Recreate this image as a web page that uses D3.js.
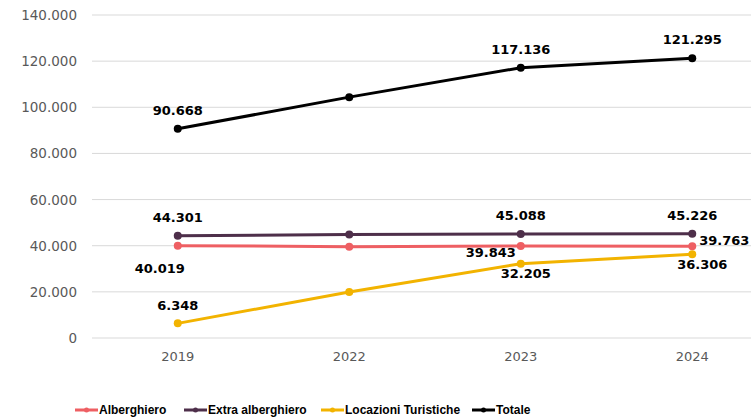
<!DOCTYPE html>
<html><head><meta charset="utf-8">
<script src="https://cdn.jsdelivr.net/npm/d3@7"></script>
<style>body{margin:0;background:#fff}svg{display:block}</style>
</head><body>
<script>
const years = ["2019","2022","2023","2024"];
const alberghiero = [40019, 39600, 39843, 39763];
const extraAlberghiero = [44301, 44900, 45088, 45226];
const locazioni = [6348, 19900, 32205, 36306];
const totale = [90668, 104400, 117136, 121295];
const yTicks = [0,20000,40000,60000,80000,100000,120000,140000];
const seriesNames = ["Alberghiero","Extra alberghiero","Locazioni Turistiche","Totale"];
// labelled points: [series index, year index, dx, dy]
const labelSpec = [
  [3,0,0,-19],[3,2,0,-19],[3,3,0,-19],
  [1,0,0,-19],[1,2,0,-19],[1,3,0,-19],
  [0,0,-18,22],[0,2,-30,6],[0,3,32,-6],
  [2,0,0,-18],[2,2,5,9],[2,3,10,10]
];

const W=751,H=418;
const svg=d3.select("body").append("svg").attr("width",W).attr("height",H);
const font="'DejaVu Sans', sans-serif";
const x=d3.scalePoint().domain(years).range([92,778]).padding(0.5);
const y=d3.scaleLinear().domain([0,140000]).range([338,15]);
const fmt=v=>d3.format(",")(v).replace(/,/g,".");

svg.append("g").selectAll("line").data(yTicks).join("line")
  .attr("x1",92).attr("x2",751).attr("y1",d=>y(d)).attr("y2",d=>y(d))
  .attr("stroke","#d9d9d9").attr("stroke-width",1);
svg.append("g").selectAll("text").data(yTicks).join("text")
  .attr("x",77).attr("y",d=>y(d)+5).attr("text-anchor","end")
  .attr("font-family",font).attr("font-size",13.5).attr("fill","#595959")
  .text(d=>fmt(d));
svg.append("g").selectAll("text").data(years).join("text")
  .attr("x",d=>x(d)).attr("y",361).attr("text-anchor","middle")
  .attr("font-family",font).attr("font-size",13).attr("fill","#595959").text(d=>d);

const data=[alberghiero,extraAlberghiero,locazioni,totale];
const colors=["#EE5F63","#4E2F4A","#F2B300","#000000"];
const line=d3.line().x((d,i)=>x(years[i])).y(d=>y(d));
data.forEach((s,k)=>{
  svg.append("path").attr("d",line(s)).attr("fill","none")
    .attr("stroke",colors[k]).attr("stroke-width",3).attr("stroke-linejoin","round");
  svg.append("g").selectAll("circle").data(s).join("circle")
    .attr("cx",(d,i)=>x(years[i])).attr("cy",d=>y(d)).attr("r",4).attr("fill",colors[k]);
});
svg.append("g").selectAll("text").data(labelSpec).join("text")
  .attr("x",d=>x(years[d[1]])+d[2]).attr("y",d=>y(data[d[0]][d[1]])+d[3]+5)
  .attr("text-anchor","middle").attr("font-family",font).attr("font-size",13)
  .attr("font-weight","bold").attr("fill","#000")
  .text(d=>fmt(data[d[0]][d[1]]));

const legX=[75,184,321,472];
const lg=svg.append("g").selectAll("g").data(seriesNames).join("g")
  .attr("transform",(d,i)=>`translate(${legX[i]},410)`);
lg.append("line").attr("x1",0).attr("x2",23).attr("stroke",(d,i)=>colors[i]).attr("stroke-width",3);
lg.append("circle").attr("cx",11.5).attr("r",2.5).attr("fill",(d,i)=>colors[i]);
lg.append("text").attr("x",24).attr("y",4).attr("font-family","'Liberation Sans', Arial, sans-serif")
  .attr("font-size",12).attr("font-weight","bold").attr("fill","#000").text(d=>d);
</script>
</body></html>
